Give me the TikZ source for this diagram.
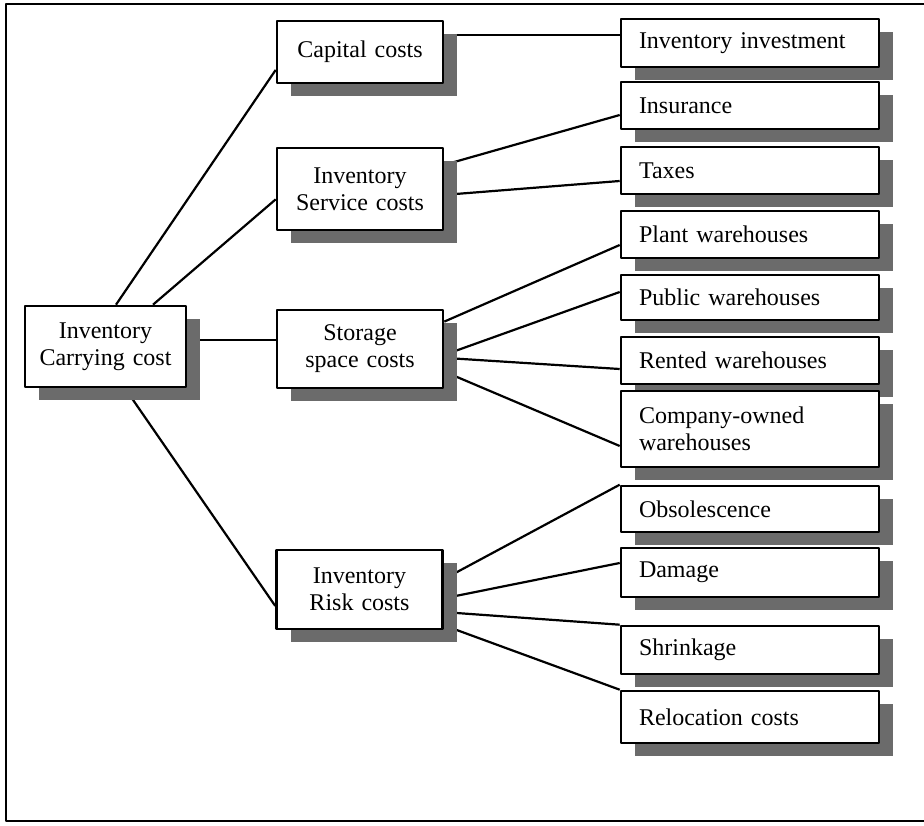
\documentclass[tikz,border=0pt]{standalone}
\usepackage{fontspec}
\setmainfont{Liberation Serif}
\usetikzlibrary{shadows}
\usetikzlibrary{backgrounds}

\begin{document}
\begin{tikzpicture}[line cap=round,line join=round,x=1pt,y=-1pt,
  box/.style={draw, line width=2.6pt, fill=white, rectangle,
    font=\fontsize{24}{27}\selectfont,
    drop shadow={shadow xshift=14pt, shadow yshift=-13pt, fill=black!58, opacity=1}},
  midbox/.style={box, text width=130pt, align=center, inner xsep=18pt, inner ysep=0pt},
  leafbox/.style={box, text width=222pt, align=left, inner xsep=18pt, inner ysep=0pt},
  link/.style={line width=2.2pt}]
\useasboundingbox (0,0) rectangle (924,826);
% frame, cut at the right
\draw[line width=2.4pt] (924,4)--(6,4)--(6,821)--(924,821);
% left and middle column
\node [midbox, text width=151pt, inner xsep=5pt, minimum height=81pt] (carry) at (105.5,346.5) {Inventory\\Carrying cost};
\node [midbox, minimum height=62pt] (cap) at (360,52) {Capital costs};
\node [midbox, minimum height=82pt] (serv) at (360,189) {Inventory\\Service costs};
\node [midbox, minimum height=78pt] (stor) at (360,349) {Storage\\space costs};
\node [midbox, minimum height=79pt] (risk) at (359.5,589.5) {Inventory\\Risk costs};
% right column
\node [leafbox, minimum height=48pt] (inv) at (750,43) {Inventory investment};
\node [leafbox, minimum height=47pt] (ins) at (750,105.5) {Insurance};
\node [leafbox, minimum height=47pt] (tax) at (750,170.5) {Taxes};
\node [leafbox, minimum height=47pt] (plant) at (750,234.5) {Plant warehouses};
\node [leafbox, minimum height=45pt] (pub) at (750,297.5) {Public warehouses};
\node [leafbox, minimum height=47pt] (rent) at (750,360.5) {Rented warehouses};
\node [leafbox, minimum height=76pt] (comp) at (750,429) {Company-owned\\warehouses};
\node [leafbox, minimum height=46pt] (obs) at (750,509) {Obsolescence};
\node [leafbox, minimum height=49pt] (dam) at (750,572.5) {Damage};
\node [leafbox, minimum height=48pt] (shr) at (750,650) {Shrinkage};
\node [leafbox, minimum height=52pt] (rel) at (750,717) {Relocation costs};
\begin{scope}[on background layer]
\draw[link] (carry.north -| 116,0) -- (cap.192);
\draw[link] (carry.north -| 153,0) -- (serv.187);
\draw[link] (carry.east |- 0,340) -- (stor.west |- 0,340);
\draw[link] (carry.south -| 125,0) -- (risk.191);
\draw[link] (cap.east |- 0,35) -- (inv.west |- 0,35);
\draw[link] (serv.16) -- (ins.west |- 0,115);
\draw[link] (serv.-4) -- (tax.west |- 0,181);
\draw[link] (stor.18) -- (plant.west |- 0,245);
\draw[link] (stor.-4) -- (pub.west |- 0,292);
\draw[link] (stor.-6) -- (rent.west |- 0,369);
\draw[link] (stor.-15) -- (comp.west |- 0,446);
\draw[link] (risk.7) -- (obs.north west);
\draw[link] (risk.-6) -- (dam.west |- 0,563);
\draw[link] (risk.-15) -- (shr.north west);
\draw[link] (risk.-23) -- (rel.north west);
\end{scope}
\end{tikzpicture}
\end{document}
